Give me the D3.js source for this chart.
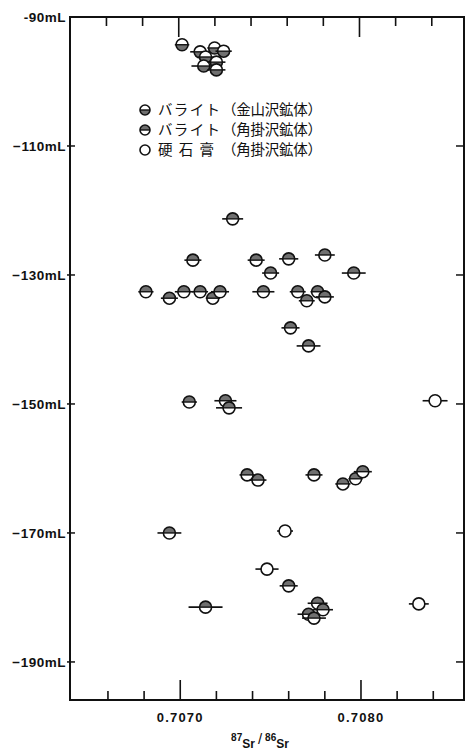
<!DOCTYPE html>
<html>
<head>
<meta charset="utf-8">
<script src="https://cdn.jsdelivr.net/npm/d3@7"></script>
<style>
	body { margin: 0; background: #fff; }
	svg { display: block; }
	.lab { font-family: "Liberation Sans", Arial, sans-serif; font-weight: bold; fill: #111; }
	.jp { font-family: "Noto Sans CJK JP", sans-serif; fill: #111; }
</style>
</head>
<body>
<svg id="chart" width="469" height="755"></svg>
<script>
// バライト（金山沢鉱体） — 87Sr/86Sr, level (mL), half error
const kanayamaSr = [0.70701, 0.70711, 0.70714, 0.70719, 0.70724, 0.70713, 0.70720, 0.70720];
const kanayamaLevel = [-94.3, -95.4, -96.2, -94.8, -95.3, -97.6, -97.0, -98.2];
const kanayamaErr = [0.00004, 0.000055, 0.00004, 0.00004, 0.000045, 0.000068, 0.00005, 0.00005];

// バライト（角掛沢鉱体）
const kakukakeSr = [0.70729, 0.70707, 0.70742, 0.70760, 0.70780, 0.70750, 0.70796,
	0.70681, 0.70694, 0.70702, 0.70711, 0.70718, 0.70722, 0.70746, 0.70765, 0.70776, 0.70780, 0.70770,
	0.70761, 0.70771,
	0.70705, 0.70725, 0.70727,
	0.70737, 0.70743, 0.70774, 0.70790, 0.70797, 0.70801,
	0.70694, 0.70760,
	0.70714, 0.70776, 0.70779, 0.70771, 0.70774];
const kakukakeLevel = [-121.3, -127.7, -127.7, -127.5, -126.9, -129.7, -129.7,
	-132.6, -133.6, -132.6, -132.6, -133.6, -132.6, -132.6, -132.6, -132.6, -133.4, -134.0,
	-138.2, -141.0,
	-149.7, -149.5, -150.6,
	-161.0, -161.8, -161.0, -162.4, -161.6, -160.5,
	-170.0, -178.2,
	-181.5, -180.9, -181.9, -182.6, -183.2];
const kakukakeErr = [0.000058, 0.000047, 0.000047, 0.000053, 0.000055, 0.000047, 0.000066,
	0.000042, 0.000047, 0.00005, 0.000044, 0.000039, 0.00005, 0.000061, 0.000044, 0.000039, 0.00005, 0.000044,
	0.00005, 0.000066,
	0.000042, 0.000061, 0.000072,
	0.000042, 0.000047, 0.000047, 0.000042, 0.000039, 0.00005,
	0.000066, 0.00005,
	0.000094, 0.000055, 0.000055, 0.000061, 0.000066];

// 硬石膏（角掛沢鉱体）
const anhydriteSr = [0.70841, 0.70758, 0.70748, 0.70832];
const anhydriteLevel = [-149.5, -169.7, -175.6, -181.0];
const anhydriteErr = [0.000069, 0.000044, 0.000064, 0.000055];

const xTicks = [0.7066, 0.7068, 0.7070, 0.7072, 0.7074, 0.7076, 0.7078, 0.7080, 0.7082, 0.7084];
const xMajor = [0.7070, 0.7080];
const xTickLabels = ['0.7070', '0.7080'];
const yTicks = [-90, -110, -130, -150, -170, -190];
const yTickLabels = ['-90mL', '\u2212110mL', '\u2212130mL', '\u2212150mL', '\u2212170mL', '\u2212190mL'];

const legendItems = [
	{ kind: 'low', name: 'バライト', body: '（金山沢鉱体）' },
	{ kind: 'high', name: 'バライト', body: '（角掛沢鉱体）' },
	{ kind: 'open', name: '硬石膏', body: '（角掛沢鉱体）' }
];

const grey = '#707070';
const svg = d3.select('#chart');

const x = d3.scaleLinear()
	.domain([0.70639, 0.70857])
	.range([70, 464]);

const y = d3.scaleLinear()
	.domain([-90, -195.9])
	.range([17, 700]);

const [x0, x1] = x.range();
const [y0, y1] = y.range();

const toPoints = (sr, lv, er, kind) => sr.map((v, i) => ({ sr: v, level: lv[i], err: er[i], kind }));

const points = [
	...toPoints(kanayamaSr, kanayamaLevel, kanayamaErr, 'low'),
	...toPoints(kakukakeSr, kakukakeLevel, kakukakeErr, 'high'),
	...toPoints(anhydriteSr, anhydriteLevel, anhydriteErr, 'open')
];

// frame
svg.append('rect')
	.attr('x', x0)
	.attr('y', y0)
	.attr('width', x1 - x0)
	.attr('height', y1 - y0)
	.attr('fill', 'none')
	.attr('stroke', '#111')
	.attr('stroke-width', 2);

// x ticks, bottom (upward) and top (downward)
const tickLen = d => xMajor.includes(d) ? 20 : 9;

svg.append('g').selectAll('line')
	.data(xTicks)
	.enter()
	.append('line')
	.attr('x1', d => x(d))
	.attr('x2', d => x(d))
	.attr('y1', y1)
	.attr('y2', d => y1 - tickLen(d))
	.attr('stroke', '#111')
	.attr('stroke-width', 1.6);

svg.append('g').selectAll('line')
	.data(xTicks)
	.enter()
	.append('line')
	.attr('x1', d => x(d) - 1.5)
	.attr('x2', d => x(d) - 1.5)
	.attr('y1', y0)
	.attr('y2', d => y0 + tickLen(d))
	.attr('stroke', '#111')
	.attr('stroke-width', 1.6);

svg.append('g').selectAll('text')
	.data(xMajor)
	.enter()
	.append('text')
	.attr('class', 'lab')
	.attr('x', d => x(d))
	.attr('y', 722)
	.attr('text-anchor', 'middle')
	.attr('font-size', 13)
	.attr('letter-spacing', 1.2)
	.text((d, i) => xTickLabels[i]);

// y ticks, left and right
svg.append('g').selectAll('line')
	.data(yTicks.slice(1))
	.enter()
	.append('line')
	.attr('x1', x0 - 3)
	.attr('x2', x0 + 5)
	.attr('y1', d => y(d))
	.attr('y2', d => y(d))
	.attr('stroke', '#111')
	.attr('stroke-width', 1.5);

svg.append('g').selectAll('line')
	.data(yTicks.slice(1))
	.enter()
	.append('line')
	.attr('x1', x1)
	.attr('x2', x1 - 8)
	.attr('y1', d => y(d))
	.attr('y2', d => y(d))
	.attr('stroke', '#111')
	.attr('stroke-width', 1.5);

svg.append('g').selectAll('text')
	.data(yTicks)
	.enter()
	.append('text')
	.attr('class', 'lab')
	.attr('x', x0 - 4)
	.attr('y', d => y(d) + 5)
	.attr('text-anchor', 'end')
	.attr('font-size', 13.5)
	.attr('letter-spacing', 0.5)
	.text((d, i) => yTickLabels[i]);

// x axis title 87Sr / 86Sr
const title = svg.append('text')
	.attr('class', 'lab')
	.attr('x', 260)
	.attr('y', 748)
	.attr('text-anchor', 'middle')
	.attr('font-size', 12);
title.append('tspan').attr('font-size', 10).attr('dy', -7).text('87');
title.append('tspan').attr('dy', 7).text('Sr');
title.append('tspan').attr('dx', 3).attr('dy', -4).attr('font-size', 15).attr('font-weight', 'normal').text('/');
title.append('tspan').attr('dx', 3).attr('font-size', 10).attr('dy', -3).text('86');
title.append('tspan').attr('dy', 7).text('Sr');

// marker drawing
const r = 6;
const halfPath = (rad, top) => `M${-rad},0 A${rad},${rad} 0 0 ${top ? 1 : 0} ${rad},0 Z`;

const drawMarker = (g, kind, rad) => {
	g.append('circle')
		.attr('r', rad)
		.attr('fill', '#fff');
	if (kind !== 'open') {
		g.append('path')
			.attr('d', halfPath(rad, kind === 'high'))
			.attr('fill', grey);
		g.append('line')
			.attr('x1', -rad)
			.attr('x2', rad)
			.attr('stroke', '#111')
			.attr('stroke-width', 1.4);
	}
	g.append('circle')
		.attr('r', rad)
		.attr('fill', 'none')
		.attr('stroke', '#111')
		.attr('stroke-width', 1.6);
};

const items = svg.append('g').selectAll('g')
	.data(points)
	.enter()
	.append('g')
	.attr('transform', d => `translate(${x(d.sr)}, ${y(d.level)})`);

items.append('line')
	.attr('x1', d => x(d.sr - d.err) - x(d.sr))
	.attr('x2', d => x(d.sr + d.err) - x(d.sr))
	.attr('stroke', '#111')
	.attr('stroke-width', 1.6);

items.each(function (d) {
	drawMarker(d3.select(this), d.kind, r);
});

// legend
const legend = svg.append('g')
	.selectAll('g')
	.data(legendItems)
	.enter()
	.append('g')
	.attr('transform', (d, i) => `translate(145, ${110 + i * 20})`);

legend.each(function (d) {
	drawMarker(d3.select(this), d.kind, 5);
});

const fs = 14.5;

legend.append('text')
	.attr('class', 'jp')
	.attr('x', 13)
	.attr('y', 5)
	.attr('font-size', fs)
	.attr('textLength', d => d.name.length === 3 ? 56 : 62)
	.attr('lengthAdjust', 'spacing')
	.text(d => d.name);

legend.append('text')
	.attr('class', 'jp')
	.attr('x', 77)
	.attr('y', 5)
	.attr('font-size', fs)
	.attr('textLength', 100)
	.attr('lengthAdjust', 'spacing')
	.text(d => d.body);
</script>
</body>
</html>
